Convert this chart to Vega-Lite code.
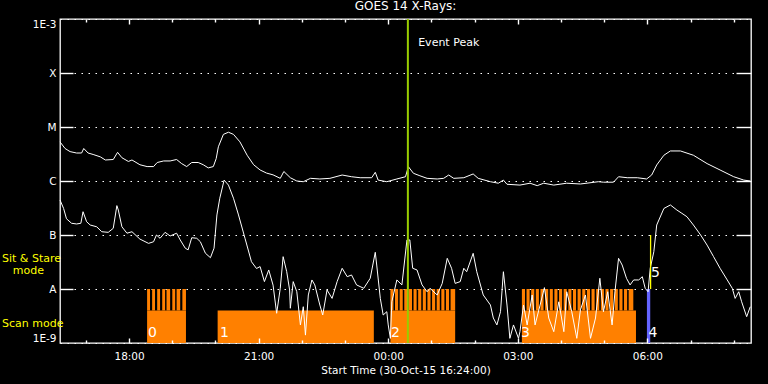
{
  "$schema": "https://vega.github.io/schema/vega-lite/v6.json",
  "width": 691,
  "height": 324,
  "autosize": "none",
  "padding": {"left": 60, "top": 19, "right": 17, "bottom": 41},
  "background": "black",
  "title": {"text": "GOES 14 X-Rays:", "color": "white", "fontSize": 12, "fontWeight": "normal", "font": "DejaVu Sans", "offset": 5, "anchor": "middle"},
  "config": {
    "view": {"stroke": "white", "strokeWidth": 1.3},
    "axis": {"labelColor": "white", "tickColor": "white", "domainColor": "white", "titleColor": "white", "labelFont": "DejaVu Sans", "titleFont": "DejaVu Sans", "labelFontSize": 10.5, "titleFontSize": 10.5, "titleFontWeight": "normal", "tickWidth": 1.4},
    "text": {"font": "DejaVu Sans"}
  },
  "datasets": {
    "scan": [
      {"t": "2015-10-30T18:25:00", "t2": "2015-10-30T19:19:00"},
      {"t": "2015-10-30T20:03:00", "t2": "2015-10-30T23:40:00"},
      {"t": "2015-10-31T00:03:00", "t2": "2015-10-31T01:33:00"},
      {"t": "2015-10-31T03:05:42", "t2": "2015-10-31T05:44:12"}
    ],
    "stare": [
      {"t": "2015-10-30T18:25:00", "t2": "2015-10-30T18:29:00"},
      {"t": "2015-10-30T18:32:00", "t2": "2015-10-30T18:36:00"},
      {"t": "2015-10-30T18:39:00", "t2": "2015-10-30T18:43:00"},
      {"t": "2015-10-30T18:46:00", "t2": "2015-10-30T18:50:00"},
      {"t": "2015-10-30T18:52:00", "t2": "2015-10-30T18:57:00"},
      {"t": "2015-10-30T19:00:00", "t2": "2015-10-30T19:04:00"},
      {"t": "2015-10-30T19:06:00", "t2": "2015-10-30T19:11:00"},
      {"t": "2015-10-30T19:14:00", "t2": "2015-10-30T19:19:00"},
      {"t": "2015-10-31T00:03:00", "t2": "2015-10-31T00:07:18"},
      {"t": "2015-10-31T00:09:26", "t2": "2015-10-31T00:13:44"},
      {"t": "2015-10-31T00:15:52", "t2": "2015-10-31T00:20:10"},
      {"t": "2015-10-31T00:22:18", "t2": "2015-10-31T00:26:36"},
      {"t": "2015-10-31T00:28:44", "t2": "2015-10-31T00:33:02"},
      {"t": "2015-10-31T00:35:10", "t2": "2015-10-31T00:39:28"},
      {"t": "2015-10-31T00:41:36", "t2": "2015-10-31T00:45:54"},
      {"t": "2015-10-31T00:48:02", "t2": "2015-10-31T00:52:20"},
      {"t": "2015-10-31T00:54:28", "t2": "2015-10-31T00:58:46"},
      {"t": "2015-10-31T01:00:54", "t2": "2015-10-31T01:05:12"},
      {"t": "2015-10-31T01:07:20", "t2": "2015-10-31T01:11:38"},
      {"t": "2015-10-31T01:13:46", "t2": "2015-10-31T01:18:04"},
      {"t": "2015-10-31T01:20:12", "t2": "2015-10-31T01:24:30"},
      {"t": "2015-10-31T01:26:38", "t2": "2015-10-31T01:33:00"},
      {"t": "2015-10-31T03:05:42", "t2": "2015-10-31T03:10:00"},
      {"t": "2015-10-31T03:12:09", "t2": "2015-10-31T03:16:27"},
      {"t": "2015-10-31T03:18:36", "t2": "2015-10-31T03:22:54"},
      {"t": "2015-10-31T03:25:03", "t2": "2015-10-31T03:29:21"},
      {"t": "2015-10-31T03:31:30", "t2": "2015-10-31T03:35:48"},
      {"t": "2015-10-31T03:37:57", "t2": "2015-10-31T03:42:15"},
      {"t": "2015-10-31T03:44:24", "t2": "2015-10-31T03:48:42"},
      {"t": "2015-10-31T03:50:51", "t2": "2015-10-31T03:55:09"},
      {"t": "2015-10-31T03:57:18", "t2": "2015-10-31T04:01:36"},
      {"t": "2015-10-31T04:03:45", "t2": "2015-10-31T04:08:03"},
      {"t": "2015-10-31T04:10:12", "t2": "2015-10-31T04:14:30"},
      {"t": "2015-10-31T04:16:39", "t2": "2015-10-31T04:20:57"},
      {"t": "2015-10-31T04:23:06", "t2": "2015-10-31T04:27:24"},
      {"t": "2015-10-31T04:29:33", "t2": "2015-10-31T04:33:51"},
      {"t": "2015-10-31T04:36:00", "t2": "2015-10-31T04:40:18"},
      {"t": "2015-10-31T04:42:27", "t2": "2015-10-31T04:46:45"},
      {"t": "2015-10-31T04:48:54", "t2": "2015-10-31T04:53:12"},
      {"t": "2015-10-31T04:55:21", "t2": "2015-10-31T04:59:39"},
      {"t": "2015-10-31T05:01:48", "t2": "2015-10-31T05:06:06"},
      {"t": "2015-10-31T05:08:15", "t2": "2015-10-31T05:12:33"},
      {"t": "2015-10-31T05:14:42", "t2": "2015-10-31T05:19:00"},
      {"t": "2015-10-31T05:21:09", "t2": "2015-10-31T05:25:27"},
      {"t": "2015-10-31T05:27:36", "t2": "2015-10-31T05:31:54"},
      {"t": "2015-10-31T05:34:03", "t2": "2015-10-31T05:40:30"}
    ],
    "blue": [{"t": "2015-10-31T05:59:24", "t2": "2015-10-31T06:04:00"}],
    "peak": [{"t": "2015-10-31T00:27:18"}],
    "yel": [{"t": "2015-10-31T06:04:30"}],
    "upper": [
      {"t": "2015-10-30T16:24:00", "f": 5.3e-6},
      {"t": "2015-10-30T16:31:00", "f": 4.0e-6},
      {"t": "2015-10-30T16:38:00", "f": 3.5e-6},
      {"t": "2015-10-30T16:47:00", "f": 3.3e-6},
      {"t": "2015-10-30T16:54:00", "f": 3.3e-6},
      {"t": "2015-10-30T16:57:00", "f": 4.0e-6},
      {"t": "2015-10-30T17:03:00", "f": 3.3e-6},
      {"t": "2015-10-30T17:10:00", "f": 3.1e-6},
      {"t": "2015-10-30T17:20:00", "f": 2.8e-6},
      {"t": "2015-10-30T17:27:00", "f": 2.45e-6},
      {"t": "2015-10-30T17:38:00", "f": 2.5e-6},
      {"t": "2015-10-30T17:44:00", "f": 3.4e-6},
      {"t": "2015-10-30T17:50:00", "f": 2.7e-6},
      {"t": "2015-10-30T17:59:00", "f": 2.3e-6},
      {"t": "2015-10-30T18:04:00", "f": 2.45e-6},
      {"t": "2015-10-30T18:15:00", "f": 2.0e-6},
      {"t": "2015-10-30T18:25:00", "f": 1.85e-6},
      {"t": "2015-10-30T18:34:00", "f": 1.85e-6},
      {"t": "2015-10-30T18:39:00", "f": 2.2e-6},
      {"t": "2015-10-30T18:48:00", "f": 2.35e-6},
      {"t": "2015-10-30T18:57:00", "f": 2.35e-6},
      {"t": "2015-10-30T19:06:00", "f": 2.5e-6},
      {"t": "2015-10-30T19:13:00", "f": 2.1e-6},
      {"t": "2015-10-30T19:20:00", "f": 1.85e-6},
      {"t": "2015-10-30T19:27:00", "f": 2.2e-6},
      {"t": "2015-10-30T19:36:00", "f": 2.2e-6},
      {"t": "2015-10-30T19:43:00", "f": 2.0e-6},
      {"t": "2015-10-30T19:50:00", "f": 1.75e-6},
      {"t": "2015-10-30T19:57:00", "f": 1.85e-6},
      {"t": "2015-10-30T20:01:00", "f": 2.6e-6},
      {"t": "2015-10-30T20:04:00", "f": 4.3e-6},
      {"t": "2015-10-30T20:11:00", "f": 7.3e-6},
      {"t": "2015-10-30T20:18:00", "f": 8.0e-6},
      {"t": "2015-10-30T20:25:00", "f": 7.3e-6},
      {"t": "2015-10-30T20:34:00", "f": 5.3e-6},
      {"t": "2015-10-30T20:44:00", "f": 3.0e-6},
      {"t": "2015-10-30T20:53:00", "f": 2.0e-6},
      {"t": "2015-10-30T21:02:00", "f": 1.6e-6},
      {"t": "2015-10-30T21:11:00", "f": 1.4e-6},
      {"t": "2015-10-30T21:20:00", "f": 1.3e-6},
      {"t": "2015-10-30T21:30:00", "f": 1.12e-6},
      {"t": "2015-10-30T21:35:00", "f": 1.5e-6},
      {"t": "2015-10-30T21:44:00", "f": 1.15e-6},
      {"t": "2015-10-30T21:53:00", "f": 1.0e-6},
      {"t": "2015-10-30T22:02:00", "f": 0.97e-6},
      {"t": "2015-10-30T22:12:00", "f": 1.12e-6},
      {"t": "2015-10-30T22:25:00", "f": 1.09e-6},
      {"t": "2015-10-30T22:39:00", "f": 1.12e-6},
      {"t": "2015-10-30T22:56:00", "f": 1.29e-6},
      {"t": "2015-10-30T23:09:00", "f": 1.2e-6},
      {"t": "2015-10-30T23:21:00", "f": 1.15e-6},
      {"t": "2015-10-30T23:37:00", "f": 1.15e-6},
      {"t": "2015-10-30T23:42:00", "f": 1.45e-6},
      {"t": "2015-10-30T23:46:00", "f": 1.04e-6},
      {"t": "2015-10-30T23:58:00", "f": 0.97e-6},
      {"t": "2015-10-31T00:12:00", "f": 1.09e-6},
      {"t": "2015-10-31T00:24:00", "f": 1.2e-6},
      {"t": "2015-10-31T00:28:00", "f": 1.84e-6},
      {"t": "2015-10-31T00:35:00", "f": 1.39e-6},
      {"t": "2015-10-31T00:44:00", "f": 1.25e-6},
      {"t": "2015-10-31T00:54:00", "f": 1.12e-6},
      {"t": "2015-10-31T01:08:00", "f": 1.09e-6},
      {"t": "2015-10-31T01:17:00", "f": 1.12e-6},
      {"t": "2015-10-31T01:24:00", "f": 1.29e-6},
      {"t": "2015-10-31T01:31:00", "f": 1.12e-6},
      {"t": "2015-10-31T01:45:00", "f": 1.15e-6},
      {"t": "2015-10-31T01:58:00", "f": 1.35e-6},
      {"t": "2015-10-31T02:05:00", "f": 1.12e-6},
      {"t": "2015-10-31T02:22:00", "f": 0.97e-6},
      {"t": "2015-10-31T02:33:00", "f": 0.91e-6},
      {"t": "2015-10-31T02:40:00", "f": 1.04e-6},
      {"t": "2015-10-31T02:45:00", "f": 0.87e-6},
      {"t": "2015-10-31T03:03:00", "f": 0.84e-6},
      {"t": "2015-10-31T03:17:00", "f": 0.91e-6},
      {"t": "2015-10-31T03:27:00", "f": 0.82e-6},
      {"t": "2015-10-31T03:36:00", "f": 0.91e-6},
      {"t": "2015-10-31T03:50:00", "f": 0.84e-6},
      {"t": "2015-10-31T04:08:00", "f": 0.91e-6},
      {"t": "2015-10-31T04:27:00", "f": 0.88e-6},
      {"t": "2015-10-31T04:52:00", "f": 0.97e-6},
      {"t": "2015-10-31T04:59:00", "f": 0.95e-6},
      {"t": "2015-10-31T05:13:00", "f": 0.95e-6},
      {"t": "2015-10-31T05:20:00", "f": 1.2e-6},
      {"t": "2015-10-31T05:32:00", "f": 1.15e-6},
      {"t": "2015-10-31T05:46:00", "f": 1.15e-6},
      {"t": "2015-10-31T05:59:00", "f": 1.09e-6},
      {"t": "2015-10-31T06:06:00", "f": 1.29e-6},
      {"t": "2015-10-31T06:13:00", "f": 1.98e-6},
      {"t": "2015-10-31T06:23:00", "f": 3.0e-6},
      {"t": "2015-10-31T06:32:00", "f": 3.6e-6},
      {"t": "2015-10-31T06:46:00", "f": 3.6e-6},
      {"t": "2015-10-31T07:04:00", "f": 3.0e-6},
      {"t": "2015-10-31T07:23:00", "f": 2.1e-6},
      {"t": "2015-10-31T07:41:00", "f": 1.6e-6},
      {"t": "2015-10-31T08:00:00", "f": 1.2e-6},
      {"t": "2015-10-31T08:14:00", "f": 1.04e-6},
      {"t": "2015-10-31T08:23:00", "f": 1.0e-6}
    ],
    "lower": [
      {"t": "2015-10-30T16:24:00", "f": 4.45e-7},
      {"t": "2015-10-30T16:29:00", "f": 3.1e-7},
      {"t": "2015-10-30T16:33:00", "f": 2.0e-7},
      {"t": "2015-10-30T16:40:00", "f": 1.65e-7},
      {"t": "2015-10-30T16:47:00", "f": 1.6e-7},
      {"t": "2015-10-30T16:53:00", "f": 1.65e-7},
      {"t": "2015-10-30T16:56:00", "f": 2.7e-7},
      {"t": "2015-10-30T17:01:00", "f": 1.76e-7},
      {"t": "2015-10-30T17:06:00", "f": 1.53e-7},
      {"t": "2015-10-30T17:15:00", "f": 1.42e-7},
      {"t": "2015-10-30T17:22:00", "f": 1.15e-7},
      {"t": "2015-10-30T17:31:00", "f": 1.12e-7},
      {"t": "2015-10-30T17:38:00", "f": 1.33e-7},
      {"t": "2015-10-30T17:43:00", "f": 3.5e-7},
      {"t": "2015-10-30T17:45:00", "f": 2.9e-7},
      {"t": "2015-10-30T17:50:00", "f": 1.42e-7},
      {"t": "2015-10-30T17:57:00", "f": 1.08e-7},
      {"t": "2015-10-30T18:04:00", "f": 1.15e-7},
      {"t": "2015-10-30T18:15:00", "f": 8.4e-8},
      {"t": "2015-10-30T18:27:00", "f": 7.0e-8},
      {"t": "2015-10-30T18:34:00", "f": 7.5e-8},
      {"t": "2015-10-30T18:38:00", "f": 1.0e-7},
      {"t": "2015-10-30T18:43:00", "f": 8.7e-8},
      {"t": "2015-10-30T18:50:00", "f": 1.12e-7},
      {"t": "2015-10-30T18:57:00", "f": 9.6e-8},
      {"t": "2015-10-30T19:06:00", "f": 1.08e-7},
      {"t": "2015-10-30T19:11:00", "f": 8.1e-8},
      {"t": "2015-10-30T19:18:00", "f": 5.7e-8},
      {"t": "2015-10-30T19:22:00", "f": 5.3e-8},
      {"t": "2015-10-30T19:27:00", "f": 8.9e-8},
      {"t": "2015-10-30T19:34:00", "f": 8.7e-8},
      {"t": "2015-10-30T19:39:00", "f": 7.5e-8},
      {"t": "2015-10-30T19:46:00", "f": 4.6e-8},
      {"t": "2015-10-30T19:53:00", "f": 3.8e-8},
      {"t": "2015-10-30T19:58:00", "f": 5.7e-8},
      {"t": "2015-10-30T20:02:00", "f": 2.35e-7},
      {"t": "2015-10-30T20:06:00", "f": 4.8e-7},
      {"t": "2015-10-30T20:12:00", "f": 1.04e-6},
      {"t": "2015-10-30T20:18:00", "f": 8.4e-7},
      {"t": "2015-10-30T20:25:00", "f": 4.8e-7},
      {"t": "2015-10-30T20:32:00", "f": 2.35e-7},
      {"t": "2015-10-30T20:41:00", "f": 8.7e-8},
      {"t": "2015-10-30T20:50:00", "f": 3.2e-8},
      {"t": "2015-10-30T20:57:00", "f": 2.4e-8},
      {"t": "2015-10-30T21:02:00", "f": 2.6e-8},
      {"t": "2015-10-30T21:08:00", "f": 1.37e-8},
      {"t": "2015-10-30T21:14:00", "f": 2.25e-8},
      {"t": "2015-10-30T21:20:00", "f": 1.18e-8},
      {"t": "2015-10-30T21:25:00", "f": 3.55e-9},
      {"t": "2015-10-30T21:30:00", "f": 1.03e-8},
      {"t": "2015-10-30T21:34:00", "f": 3.97e-8},
      {"t": "2015-10-30T21:39:00", "f": 2.09e-8},
      {"t": "2015-10-30T21:43:00", "f": 9.6e-9},
      {"t": "2015-10-30T21:44:00", "f": 4.4e-9},
      {"t": "2015-10-30T21:48:00", "f": 1.37e-8},
      {"t": "2015-10-30T21:53:00", "f": 8.9e-9},
      {"t": "2015-10-30T21:58:00", "f": 2.16e-9},
      {"t": "2015-10-30T22:02:00", "f": 4.7e-9},
      {"t": "2015-10-30T22:05:00", "f": 1.4e-9},
      {"t": "2015-10-30T22:09:00", "f": 7.75e-9},
      {"t": "2015-10-30T22:14:00", "f": 1.47e-8},
      {"t": "2015-10-30T22:18:00", "f": 1.19e-8},
      {"t": "2015-10-30T22:25:00", "f": 5.05e-9},
      {"t": "2015-10-30T22:29:00", "f": 3.3e-9},
      {"t": "2015-10-30T22:35:00", "f": 9.6e-9},
      {"t": "2015-10-30T22:42:00", "f": 6.7e-9},
      {"t": "2015-10-30T22:49:00", "f": 1.37e-8},
      {"t": "2015-10-30T22:56:00", "f": 2.42e-8},
      {"t": "2015-10-30T23:03:00", "f": 1.69e-8},
      {"t": "2015-10-30T23:09:00", "f": 1.82e-8},
      {"t": "2015-10-30T23:16:00", "f": 1.19e-8},
      {"t": "2015-10-30T23:26:00", "f": 1.03e-8},
      {"t": "2015-10-30T23:35:00", "f": 1.58e-8},
      {"t": "2015-10-30T23:42:00", "f": 4.78e-8},
      {"t": "2015-10-30T23:44:00", "f": 2.78e-8},
      {"t": "2015-10-30T23:49:00", "f": 6.7e-9},
      {"t": "2015-10-30T23:53:00", "f": 3.3e-9},
      {"t": "2015-10-30T23:58:00", "f": 3.8e-9},
      {"t": "2015-10-31T00:00:00", "f": 2.16e-9},
      {"t": "2015-10-31T00:03:00", "f": 1.22e-9},
      {"t": "2015-10-31T00:05:00", "f": 5.8e-9},
      {"t": "2015-10-31T00:12:00", "f": 1.47e-8},
      {"t": "2015-10-31T00:19:00", "f": 1.19e-8},
      {"t": "2015-10-31T00:26:00", "f": 8.1e-8},
      {"t": "2015-10-31T00:30:00", "f": 8.1e-8},
      {"t": "2015-10-31T00:34:00", "f": 2.42e-8},
      {"t": "2015-10-31T00:40:00", "f": 2.25e-8},
      {"t": "2015-10-31T00:47:00", "f": 1.19e-8},
      {"t": "2015-10-31T00:54:00", "f": 8.9e-9},
      {"t": "2015-10-31T00:58:00", "f": 1.03e-8},
      {"t": "2015-10-31T01:08:00", "f": 7.75e-9},
      {"t": "2015-10-31T01:15:00", "f": 1.27e-8},
      {"t": "2015-10-31T01:22:00", "f": 3.7e-8},
      {"t": "2015-10-31T01:28:00", "f": 2.42e-8},
      {"t": "2015-10-31T01:33:00", "f": 1.27e-8},
      {"t": "2015-10-31T01:40:00", "f": 1.37e-8},
      {"t": "2015-10-31T01:45:00", "f": 2.42e-8},
      {"t": "2015-10-31T01:49:00", "f": 2.09e-8},
      {"t": "2015-10-31T01:58:00", "f": 4.58e-8},
      {"t": "2015-10-31T02:03:00", "f": 2.09e-8},
      {"t": "2015-10-31T02:12:00", "f": 7.75e-9},
      {"t": "2015-10-31T02:22:00", "f": 5.05e-9},
      {"t": "2015-10-31T02:26:00", "f": 2.9e-9},
      {"t": "2015-10-31T02:31:00", "f": 2.16e-9},
      {"t": "2015-10-31T02:36:00", "f": 3.8e-9},
      {"t": "2015-10-31T02:40:00", "f": 2.09e-8},
      {"t": "2015-10-31T02:45:00", "f": 5.05e-9},
      {"t": "2015-10-31T02:49:00", "f": 1.22e-9},
      {"t": "2015-10-31T02:54:00", "f": 2.16e-9},
      {"t": "2015-10-31T03:01:00", "f": 1.22e-9},
      {"t": "2015-10-31T03:03:00", "f": 1.62e-9},
      {"t": "2015-10-31T03:08:00", "f": 5.05e-9},
      {"t": "2015-10-31T03:13:00", "f": 2.16e-9},
      {"t": "2015-10-31T03:20:00", "f": 7.75e-9},
      {"t": "2015-10-31T03:24:00", "f": 2.16e-9},
      {"t": "2015-10-31T03:31:00", "f": 5.05e-9},
      {"t": "2015-10-31T03:37:00", "f": 1.06e-8},
      {"t": "2015-10-31T03:43:00", "f": 2.9e-9},
      {"t": "2015-10-31T03:50:00", "f": 1.62e-9},
      {"t": "2015-10-31T03:57:00", "f": 5.8e-9},
      {"t": "2015-10-31T04:04:00", "f": 1.62e-9},
      {"t": "2015-10-31T04:08:00", "f": 8.9e-9},
      {"t": "2015-10-31T04:15:00", "f": 3.8e-9},
      {"t": "2015-10-31T04:22:00", "f": 1.22e-9},
      {"t": "2015-10-31T04:27:00", "f": 4.1e-9},
      {"t": "2015-10-31T04:34:00", "f": 7.75e-9},
      {"t": "2015-10-31T04:41:00", "f": 1.22e-9},
      {"t": "2015-10-31T04:48:00", "f": 2.9e-9},
      {"t": "2015-10-31T04:54:00", "f": 1.58e-8},
      {"t": "2015-10-31T04:59:00", "f": 3.8e-9},
      {"t": "2015-10-31T05:05:00", "f": 8.9e-9},
      {"t": "2015-10-31T05:11:00", "f": 2.16e-9},
      {"t": "2015-10-31T05:15:00", "f": 8.9e-9},
      {"t": "2015-10-31T05:20:00", "f": 3.7e-8},
      {"t": "2015-10-31T05:25:00", "f": 2.78e-8},
      {"t": "2015-10-31T05:31:00", "f": 1.58e-8},
      {"t": "2015-10-31T05:36:00", "f": 1.19e-8},
      {"t": "2015-10-31T05:41:00", "f": 1.47e-8},
      {"t": "2015-10-31T05:48:00", "f": 1.47e-8},
      {"t": "2015-10-31T05:53:00", "f": 1.69e-8},
      {"t": "2015-10-31T05:57:00", "f": 1.03e-8},
      {"t": "2015-10-31T06:01:00", "f": 8.9e-9},
      {"t": "2015-10-31T06:04:00", "f": 2.42e-8},
      {"t": "2015-10-31T06:09:00", "f": 4.9e-8},
      {"t": "2015-10-31T06:13:00", "f": 1.53e-7},
      {"t": "2015-10-31T06:23:00", "f": 3.1e-7},
      {"t": "2015-10-31T06:32:00", "f": 3.6e-7},
      {"t": "2015-10-31T06:41:00", "f": 2.9e-7},
      {"t": "2015-10-31T06:48:00", "f": 2.52e-7},
      {"t": "2015-10-31T06:55:00", "f": 2.18e-7},
      {"t": "2015-10-31T07:04:00", "f": 1.53e-7},
      {"t": "2015-10-31T07:14:00", "f": 1.0e-7},
      {"t": "2015-10-31T07:23:00", "f": 6.5e-8},
      {"t": "2015-10-31T07:32:00", "f": 3.97e-8},
      {"t": "2015-10-31T07:41:00", "f": 2.42e-8},
      {"t": "2015-10-31T07:51:00", "f": 1.47e-8},
      {"t": "2015-10-31T07:58:00", "f": 1.03e-8},
      {"t": "2015-10-31T08:02:00", "f": 6.7e-9},
      {"t": "2015-10-31T08:07:00", "f": 8.9e-9},
      {"t": "2015-10-31T08:11:00", "f": 5.8e-9},
      {"t": "2015-10-31T08:18:00", "f": 3.07e-9},
      {"t": "2015-10-31T08:23:00", "f": 4.7e-9}
    ],
    "nums": [
      {"t": "2015-10-30T18:26:18", "f": 1.53e-9, "label": "0"},
      {"t": "2015-10-30T20:06:24", "f": 1.53e-9, "label": "1"},
      {"t": "2015-10-31T00:04:00", "f": 1.53e-9, "label": "2"},
      {"t": "2015-10-31T03:04:24", "f": 1.53e-9, "label": "3"},
      {"t": "2015-10-31T06:01:42", "f": 1.53e-9, "label": "4"},
      {"t": "2015-10-31T06:05:00", "f": 2.0e-8, "label": "5"}
    ],
    "event": [{"t": "2015-10-31T00:41:36", "f": 3.6e-4, "label": "Event Peak"}],
    "modes": [
      {"t": "2015-10-30T15:03:24", "f": 3.6e-8, "label": "Sit & Stare"},
      {"t": "2015-10-30T15:18:18", "f": 2.15e-8, "label": "mode"},
      {"t": "2015-10-30T15:03:24", "f": 2.25e-9, "label": "Scan mode"}
    ]
  },
  "resolve": {"axis": {"x": "independent", "y": "independent"}},
  "layer": [
    {
      "data": {"name": "scan"},
      "mark": {"type": "rect", "color": "#ff8000"},
      "encoding": {
        "x": {"field": "t", "type": "temporal", "scale": {"type": "time", "nice": false, "domain": [{"year": 2015, "month": 10, "date": 30, "hours": 16, "minutes": 24}, {"year": 2015, "month": 10, "date": 31, "hours": 8, "minutes": 24}]},
          "axis": {"orient": "bottom", "values": [{"year": 2015, "month": 10, "date": 30, "hours": 18}, {"year": 2015, "month": 10, "date": 30, "hours": 21}, {"year": 2015, "month": 10, "date": 31, "hours": 0}, {"year": 2015, "month": 10, "date": 31, "hours": 3}, {"year": 2015, "month": 10, "date": 31, "hours": 6}], "format": "%H:%M", "title": "Start Time (30-Oct-15 16:24:00)", "ticks": false, "labelPadding": 8, "titlePadding": 4, "domain": false, "grid": false, "labelFlush": false}},
        "x2": {"field": "t2"},
        "y": {"datum": 1e-9, "type": "quantitative", "scale": {"type": "log", "domain": [1e-9, 1e-3], "nice": false}, "axis": null},
        "y2": {"datum": 4e-9}
      }
    },
    {
      "data": {"name": "stare"},
      "mark": {"type": "rect", "color": "#ff8000"},
      "encoding": {
        "x": {"field": "t", "type": "temporal", "scale": {"type": "time", "nice": false, "domain": [{"year": 2015, "month": 10, "date": 30, "hours": 16, "minutes": 24}, {"year": 2015, "month": 10, "date": 31, "hours": 8, "minutes": 24}]},
          "axis": {"orient": "bottom", "values": [{"year": 2015, "month": 10, "date": 30, "hours": 18}, {"year": 2015, "month": 10, "date": 30, "hours": 21}, {"year": 2015, "month": 10, "date": 31, "hours": 0}, {"year": 2015, "month": 10, "date": 31, "hours": 3}, {"year": 2015, "month": 10, "date": 31, "hours": 6}], "labels": false, "title": null, "offset": -5, "tickSize": 5, "domain": false, "grid": false, "zindex": 1}},
        "x2": {"field": "t2"},
        "y": {"datum": 4e-9, "type": "quantitative", "scale": {"type": "log", "domain": [1e-9, 1e-3], "nice": false}, "axis": null},
        "y2": {"datum": 1e-8}
      }
    },
    {
      "data": {"name": "blue"},
      "mark": {"type": "rect", "color": "#6464ff"},
      "encoding": {
        "x": {"field": "t", "type": "temporal", "scale": {"type": "time", "nice": false, "domain": [{"year": 2015, "month": 10, "date": 30, "hours": 16, "minutes": 24}, {"year": 2015, "month": 10, "date": 31, "hours": 8, "minutes": 24}]},
          "axis": {"orient": "bottom", "values": [{"year": 2015, "month": 10, "date": 30, "hours": 17}, {"year": 2015, "month": 10, "date": 30, "hours": 19}, {"year": 2015, "month": 10, "date": 30, "hours": 20}, {"year": 2015, "month": 10, "date": 30, "hours": 22}, {"year": 2015, "month": 10, "date": 30, "hours": 23}, {"year": 2015, "month": 10, "date": 31, "hours": 1}, {"year": 2015, "month": 10, "date": 31, "hours": 2}, {"year": 2015, "month": 10, "date": 31, "hours": 4}, {"year": 2015, "month": 10, "date": 31, "hours": 5}, {"year": 2015, "month": 10, "date": 31, "hours": 7}, {"year": 2015, "month": 10, "date": 31, "hours": 8}], "labels": false, "title": null, "offset": -3, "tickSize": 3, "domain": false, "grid": false, "zindex": 1}},
        "x2": {"field": "t2"},
        "y": {"datum": 1e-9, "type": "quantitative", "scale": {"type": "log", "domain": [1e-9, 1e-3], "nice": false}, "axis": null},
        "y2": {"datum": 1e-8}
      }
    },
    {
      "data": {"name": "upper"},
      "mark": {"type": "line", "color": "white", "strokeWidth": 1},
      "encoding": {
        "x": {"field": "t", "type": "temporal", "scale": {"type": "time", "nice": false, "domain": [{"year": 2015, "month": 10, "date": 30, "hours": 16, "minutes": 24}, {"year": 2015, "month": 10, "date": 31, "hours": 8, "minutes": 24}]},
          "axis": {"orient": "top", "values": [{"year": 2015, "month": 10, "date": 30, "hours": 18}, {"year": 2015, "month": 10, "date": 30, "hours": 21}, {"year": 2015, "month": 10, "date": 31, "hours": 0}, {"year": 2015, "month": 10, "date": 31, "hours": 3}, {"year": 2015, "month": 10, "date": 31, "hours": 6}], "labels": false, "title": null, "offset": -5, "tickSize": 5, "domain": false, "grid": false, "zindex": 1}},
        "y": {"field": "f", "type": "quantitative", "scale": {"type": "log", "domain": [1e-9, 1e-3], "nice": false},
          "axis": {"orient": "left", "values": [1e-9, 1e-8, 1e-7, 1e-6, 1e-5, 1e-4, 1e-3], "labelExpr": "datum.value < 3e-9 ? '1E-9' : datum.value < 3e-8 ? 'A' : datum.value < 3e-7 ? 'B' : datum.value < 3e-6 ? 'C' : datum.value < 3e-5 ? 'M' : datum.value < 3e-4 ? 'X' : '1E-3'", "ticks": false, "labelPadding": 4, "labelFlush": true, "title": null, "domain": false, "grid": true, "gridColor": "white", "gridDash": [1.5, 5.5], "gridOpacity": 1, "gridWidth": 1}}
      }
    },
    {
      "data": {"name": "lower"},
      "mark": {"type": "line", "color": "white", "strokeWidth": 1},
      "encoding": {
        "x": {"field": "t", "type": "temporal", "scale": {"type": "time", "nice": false, "domain": [{"year": 2015, "month": 10, "date": 30, "hours": 16, "minutes": 24}, {"year": 2015, "month": 10, "date": 31, "hours": 8, "minutes": 24}]},
          "axis": {"orient": "top", "values": [{"year": 2015, "month": 10, "date": 30, "hours": 17}, {"year": 2015, "month": 10, "date": 30, "hours": 19}, {"year": 2015, "month": 10, "date": 30, "hours": 20}, {"year": 2015, "month": 10, "date": 30, "hours": 22}, {"year": 2015, "month": 10, "date": 30, "hours": 23}, {"year": 2015, "month": 10, "date": 31, "hours": 1}, {"year": 2015, "month": 10, "date": 31, "hours": 2}, {"year": 2015, "month": 10, "date": 31, "hours": 4}, {"year": 2015, "month": 10, "date": 31, "hours": 5}, {"year": 2015, "month": 10, "date": 31, "hours": 7}, {"year": 2015, "month": 10, "date": 31, "hours": 8}], "labels": false, "title": null, "offset": -3, "tickSize": 3, "domain": false, "grid": false, "zindex": 1}},
        "y": {"field": "f", "type": "quantitative", "scale": {"type": "log", "domain": [1e-9, 1e-3], "nice": false},
          "axis": {"orient": "left", "values": [1e-8, 1e-7, 1e-6, 1e-5, 1e-4], "labels": false, "title": null, "offset": -13, "tickSize": 13, "domain": false, "grid": false, "zindex": 1}}
      }
    },
    {
      "data": {"name": "peak"},
      "mark": {"type": "rule", "color": "#99cc00", "strokeWidth": 2},
      "encoding": {
        "x": {"field": "t", "type": "temporal", "scale": {"type": "time", "nice": false, "domain": [{"year": 2015, "month": 10, "date": 30, "hours": 16, "minutes": 24}, {"year": 2015, "month": 10, "date": 31, "hours": 8, "minutes": 24}]}, "axis": null}
      }
    },
    {
      "data": {"name": "yel"},
      "mark": {"type": "rule", "color": "#ffff00", "strokeWidth": 1.3},
      "encoding": {
        "x": {"field": "t", "type": "temporal", "scale": {"type": "time", "nice": false, "domain": [{"year": 2015, "month": 10, "date": 30, "hours": 16, "minutes": 24}, {"year": 2015, "month": 10, "date": 31, "hours": 8, "minutes": 24}]}, "axis": null},
        "y": {"datum": 1e-8, "type": "quantitative", "scale": {"type": "log", "domain": [1e-9, 1e-3], "nice": false}, "axis": null},
        "y2": {"datum": 1e-7}
      }
    },
    {
      "data": {"name": "nums"},
      "mark": {"type": "text", "color": "white", "fontSize": 14, "align": "left", "baseline": "middle"},
      "encoding": {
        "x": {"field": "t", "type": "temporal", "scale": {"type": "time", "nice": false, "domain": [{"year": 2015, "month": 10, "date": 30, "hours": 16, "minutes": 24}, {"year": 2015, "month": 10, "date": 31, "hours": 8, "minutes": 24}]}, "axis": null},
        "y": {"field": "f", "type": "quantitative", "scale": {"type": "log", "domain": [1e-9, 1e-3], "nice": false},
          "axis": {"orient": "right", "values": [1e-8, 1e-7, 1e-6, 1e-5, 1e-4], "labels": false, "title": null, "offset": -15, "tickSize": 15, "domain": false, "grid": false, "zindex": 1}},
        "text": {"field": "label"}
      }
    },
    {
      "data": {"name": "event"},
      "mark": {"type": "text", "color": "white", "fontSize": 11, "align": "left", "baseline": "middle"},
      "encoding": {
        "x": {"field": "t", "type": "temporal", "scale": {"type": "time", "nice": false, "domain": [{"year": 2015, "month": 10, "date": 30, "hours": 16, "minutes": 24}, {"year": 2015, "month": 10, "date": 31, "hours": 8, "minutes": 24}]}, "axis": null},
        "y": {"field": "f", "type": "quantitative", "scale": {"type": "log", "domain": [1e-9, 1e-3], "nice": false}, "axis": null},
        "text": {"field": "label"}
      }
    },
    {
      "data": {"name": "modes"},
      "mark": {"type": "text", "color": "#ffff00", "fontSize": 11, "align": "left", "baseline": "middle"},
      "encoding": {
        "x": {"field": "t", "type": "temporal", "scale": {"type": "time", "nice": false, "domain": [{"year": 2015, "month": 10, "date": 30, "hours": 16, "minutes": 24}, {"year": 2015, "month": 10, "date": 31, "hours": 8, "minutes": 24}]}, "axis": null},
        "y": {"field": "f", "type": "quantitative", "scale": {"type": "log", "domain": [1e-9, 1e-3], "nice": false}, "axis": null},
        "text": {"field": "label"}
      }
    }
  ]
}
